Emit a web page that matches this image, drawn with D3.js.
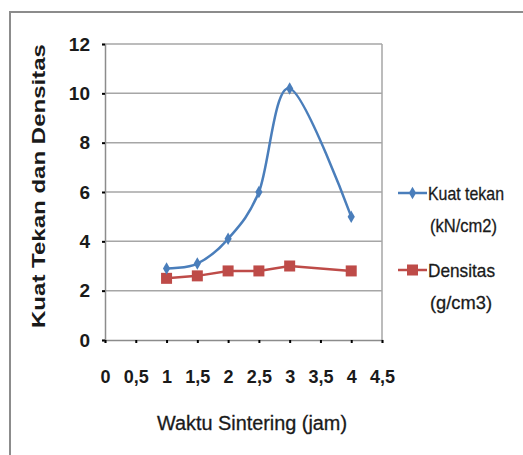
<!DOCTYPE html>
<html><head><meta charset="utf-8">
<script src="https://cdn.jsdelivr.net/npm/d3@7"></script>
<style>body{margin:0;background:#fff}svg{display:block}</style>
</head><body>
<svg id="c" width="523" height="455"></svg>
<script>
const waktu = [1, 1.5, 2, 2.5, 3, 4];
const kuatTekan = [2.9, 3.1, 4.1, 6.0, 10.2, 5.0];
const densitas = [2.5, 2.6, 2.8, 2.8, 3.0, 2.8];
const xTicks = [0, 0.5, 1, 1.5, 2, 2.5, 3, 3.5, 4, 4.5];
const yTicks = [0, 2, 4, 6, 8, 10, 12];
const seriesNames = [["Kuat tekan", "(kN/cm2)"], ["Densitas", "(g/cm3)"]];
const legendWidths = [[76, 67], [67, 62]];

const svg = d3.select("#c");
const font = "'Liberation Sans', Arial, sans-serif";
svg.append("rect").attr("x", 10).attr("y", 12).attr("width", 530).attr("height", 460)
  .attr("fill", "none").attr("stroke", "#8c8c8c").attr("stroke-width", 2);

const x = d3.scaleLinear().domain([0, 4.5]).range([105, 382]);
const y = d3.scaleLinear().domain([0, 12]).range([340, 44]);

svg.append("g").selectAll("line").data(yTicks.filter(d => d > 0)).join("line")
  .attr("x1", x(0)).attr("x2", x(4.5)).attr("y1", d => y(d)).attr("y2", d => y(d))
  .attr("stroke", "#a6a6a6").attr("stroke-width", 1.5);
svg.append("line").attr("x1", x(4.5)).attr("x2", x(4.5)).attr("y1", y(12)).attr("y2", y(0))
  .attr("stroke", "#a6a6a6").attr("stroke-width", 1.5);

const yAxis = d3.axisLeft(y).tickValues(yTicks).tickSize(3).tickPadding(12).tickFormat(d3.format("d"));
const gy = svg.append("g").attr("transform", `translate(${x(0)},0)`).call(yAxis);
gy.select(".domain").attr("stroke", "#8c8c8c").attr("stroke-width", 1.5);
gy.selectAll(".tick line").attr("stroke", "#000").attr("stroke-width", 2);
gy.selectAll(".tick text").attr("font-family", font).attr("font-size", 19)
  .attr("font-weight", "bold").attr("fill", "#1a1a1a");

const xAxis = d3.axisBottom(x).tickValues(xTicks).tickSize(3).tickPadding(27)
  .tickFormat(d => String(d).replace(".", ","));
const gx = svg.append("g").attr("transform", `translate(0,${y(0)})`).call(xAxis);
gx.select(".domain").attr("stroke", "#8c8c8c").attr("stroke-width", 1.5);
gx.selectAll(".tick line").attr("stroke", "#000").attr("stroke-width", 2);
gx.selectAll(".tick text").attr("font-family", font).attr("font-size", 18)
  .attr("font-weight", "bold").attr("fill", "#1a1a1a");

svg.append("text").attr("transform", "translate(45,186) rotate(-90)")
  .attr("text-anchor", "middle").attr("font-family", font).attr("font-size", 18)
  .attr("font-weight", "bold").attr("fill", "#1a1a1a")
  .attr("textLength", 284).attr("lengthAdjust", "spacingAndGlyphs")
  .text("Kuat Tekan dan Densitas");
svg.append("text").attr("x", 252).attr("y", 430).attr("text-anchor", "middle")
  .attr("font-family", font).attr("font-size", 20).attr("fill", "#1a1a1a")
  .attr("stroke", "#1a1a1a").attr("stroke-width", 0.3)
  .attr("textLength", 190).attr("lengthAdjust", "spacingAndGlyphs")
  .text("Waktu Sintering (jam)");

const blue = "#4a7ebb", red = "#be4b48";
const ptsB = waktu.map((w, i) => [w, kuatTekan[i]]);
const ptsR = waktu.map((w, i) => [w, densitas[i]]);

svg.append("path").datum(ptsR)
  .attr("d", d3.line().x(d => x(d[0])).y(d => y(d[1])))
  .attr("fill", "none").attr("stroke", red).attr("stroke-width", 2.5);
svg.append("g").selectAll("rect").data(ptsR).join("rect")
  .attr("x", d => x(d[0]) - 5.5).attr("y", d => y(d[1]) - 5.5)
  .attr("width", 11).attr("height", 11).attr("fill", red);

svg.append("path").datum(ptsB)
  .attr("d", d3.line().curve(d3.curveCardinal.tension(0)).x(d => x(d[0])).y(d => y(d[1])))
  .attr("fill", "none").attr("stroke", blue).attr("stroke-width", 2.5);
const diamond = d3.symbol().type(d3.symbolDiamond).size(45);
svg.append("g").selectAll("path").data(ptsB).join("path")
  .attr("transform", d => `translate(${x(d[0])},${y(d[1])})`)
  .attr("d", diamond).attr("fill", blue);

const legY = [193, 270];
const colors = [blue, red];
seriesNames.forEach((nm, i) => {
  const g = svg.append("g");
  g.append("line").attr("x1", 398).attr("x2", 427).attr("y1", legY[i]).attr("y2", legY[i])
    .attr("stroke", colors[i]).attr("stroke-width", 2.5);
  if (i === 0) g.append("path").attr("transform", `translate(412.5,${legY[i]})`).attr("d", diamond).attr("fill", blue);
  else g.append("rect").attr("x", 407).attr("y", legY[i] - 5.5).attr("width", 11).attr("height", 11).attr("fill", red);
  g.append("text").attr("x", 428).attr("y", legY[i] + 7).attr("font-family", font).attr("font-size", 19)
    .attr("fill", "#1a1a1a").attr("stroke", "#1a1a1a").attr("stroke-width", 0.3)
    .attr("textLength", legendWidths[i][0]).attr("lengthAdjust", "spacingAndGlyphs").text(nm[0]);
  g.append("text").attr("x", 430).attr("y", legY[i] + 39).attr("font-family", font).attr("font-size", 19)
    .attr("fill", "#1a1a1a").attr("stroke", "#1a1a1a").attr("stroke-width", 0.3)
    .attr("textLength", legendWidths[i][1]).attr("lengthAdjust", "spacingAndGlyphs").text(nm[1]);
});
</script>
</body></html>
